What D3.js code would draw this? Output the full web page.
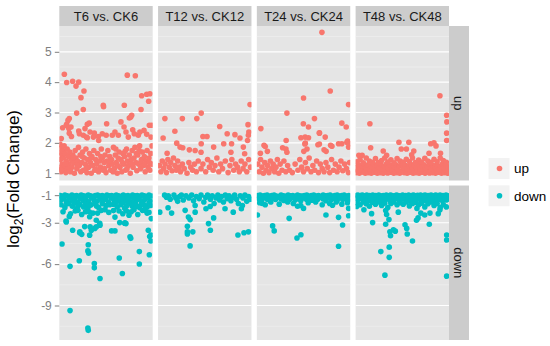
<!DOCTYPE html>
<html>
<head>
<meta charset="utf-8">
<script src="https://cdn.jsdelivr.net/npm/d3@7"></script>
<style>
  body { margin: 0; background: #fff; }
  text { font-family: "Liberation Sans", Arial, Helvetica, sans-serif; }
</style>
</head>
<body>
<svg id="chart" width="550" height="346"></svg>
<script>
// facets
var samples = ["T6 vs. CK6", "T12 vs. CK12", "T24 vs. CK24", "T48 vs. CK48"];
var types = ["up", "down"];

// y breaks (major / minor) per row
var upBreaks = [1, 2, 3, 4, 5];
var upMinor = [1.5, 2.5, 3.5, 4.5, 5.5];
var downBreaks = [-1, -3, -6, -9];
var downMinor = [-2, -4.5, -7.5, -10.5];
var upDomain = [0.76, 5.85];
var downDomain = [-11.5, -0.3];

// points: [gene position (0-100 within sample), log2 fold change]
var upT6 = [
  [5.4,4.26],[7.9,3.99],[14.3,4.03],[17.9,3.87],[20.8,4.0],[23.2,3.49],[26.4,3.71],[25.7,3.1],[18.6,2.98],
  [72.8,4.23],[81.4,4.21],[69.6,3.24],[47.1,3.24],[47.4,3.19],[88.2,3.55],[93.6,3.6],[97,3.62],[95.7,3.37],
  [87.5,3.1],[77.5,2.91],[75,2.82],[96.4,2.58],[98.9,2.58],[3.6,2.5],[7.9,2.61],[10.7,2.8],[10.2,2.47],
  [12.5,2.52],[10.7,2.32],[20.8,2.39],[27.5,2.47],[30,2.61],[32,2.65],[25.7,2.25],[29,2.19],[32.9,2.36],
  [37.5,2.32],[36.5,2.19],[41.8,2.21],[46,2.3],[50.7,2.63],[50.2,2.25],[56.7,2.25],[59.6,2.36],[63.2,2.25],
  [66,2.69],[69.3,2.52],[71.4,2.36],[73.9,2.19],[78.6,2.43],[80.3,2.3],[84.6,2.25],[90.7,2.41],[93.6,2.28],
  [98.2,2.19],[2.1,2.14],[7.5,2.58],[9.3,2.74],[13,2.21],[21.5,2.3],[30,2.17],[42.2,2.08],[76.5,2.85],[86.3,2.36],
  [0.8,1.95],[0.8,1.7],[1.2,1.45],[1.5,1.2],[1.8,1.05],[2.5,1.85],[2.8,1.6],[3.2,1.3],[3.6,1.75],[4.0,1.1],
  [4.5,1.5],[5.2,1.9],[5.8,1.25],[6.3,1.65],[7.0,1.02],[7.5,1.4],[8.4,1.8],[9.0,1.15],[9.8,1.55],[10.5,1.3],
  [11.3,1.7],[12.0,1.05],[12.8,1.45],[13.5,1.2],[14.5,1.6],[15.4,1.35],[16.2,1.0],[17.0,1.75],[17.8,1.5],
  [18.8,1.15],[19.5,1.4],[20.5,1.85],[21.4,1.25],[22.3,1.6],[23.0,1.05],[24.0,1.35],[25.0,1.7],[25.8,1.1],
  [26.8,1.5],[27.8,1.3],[28.5,1.8],[29.5,1.02],[30.5,1.45],[31.4,1.2],[32.3,1.65],[33.3,1.35],[34.2,1.0],
  [35.0,1.55],[36.0,1.25],[37.0,1.75],[38.0,1.1],[39.0,1.45],[40.0,1.3],[41.0,1.65],[42.0,1.05],[43.0,1.4],
  [44.0,1.2],[45.0,1.8],[46.0,1.5],[47.0,1.1],[48.0,1.35],[49.0,1.6],[50.0,1.02],[51.0,1.4],[52.0,1.75],
  [53.0,1.25],[54.0,1.55],[55.0,1.1],[56.0,1.45],[57.0,1.3],[58.0,1.85],[59.0,1.15],[60.0,1.6],[61.0,1.35],
  [62.0,1.0],[63.0,1.5],[64.0,1.7],[65.0,1.2],[66.0,1.45],[67.0,1.05],[68.0,1.65],[69.0,1.3],[70.0,1.55],
  [71.0,1.1],[72.0,1.8],[73.0,1.4],[74.0,1.25],[75.0,1.6],[76.0,1.0],[77.0,1.45],[78.0,1.75],[79.0,1.2],
  [80.0,1.5],[81.0,1.85],[82.0,1.35],[83.0,1.08],[84.0,1.6],[85.0,1.3],[86.0,1.9],[87.0,1.15],[88.0,1.45],
  [89.0,1.7],[90.0,1.25],[91.0,1.55],[92.0,1.05],[93.0,1.4],[94.0,1.75],[95.0,1.2],[96.0,1.5],[97.0,1.1],
  [98.0,1.65],[99.0,1.3],[99.3,1.9],
  [2,1.12],[6.5,1.32],[11,1.08],[15,1.52],[19,1.28],[24.5,1.55],[29,1.18],[33.8,1.5],[39.5,1.12],[44.5,1.55],
  [48.5,1.15],[53.5,1.4],[57.5,1.05],[62.5,1.25],[67.5,1.35],[72.5,1.15],[77.5,1.3],[82.5,1.65],[87.5,1.38],
  [91.5,1.3],[96.5,1.35],[60.5,1.8],[70.5,1.72],[85.5,1.75]
];
var upT12 = [
  [7.3,2.8],[26,2.8],[41.5,2.8],[46.2,2.98],[98.5,3.26],[66,2.54],[18,2.38],[5.4,2.16],[48,2.21],[52.4,2.21],
  [74,2.3],[82.3,2.27],[87.7,2.16],[96.3,2.6],[97.2,2.36],[96.7,2.25],[95.8,2.08],[20,1.99],[23.5,1.86],
  [26.4,1.84],[33.5,1.77],[39.7,1.75],[46.2,1.97],[46,1.69],[59.5,1.86],[70.3,1.97],[78.7,1.97],[78,1.69],
  [91.3,1.86],[92.7,1.64],[9.7,1.66],
  [1.5,1.25],[3,1.05],[4.5,1.4],[6,1.15],[7.5,1.3],[9,1.02],[10.5,1.45],[12,1.2],[13.5,1.35],[15,1.08],
  [16.5,1.5],[18,1.25],[19.5,1.1],[21,1.4],[22.5,1.2],[24,1.05],[26,1.3],[28,1.15],[31,1.0],[33,1.35],
  [35,1.2],[37,1.1],[39,1.3],[41,1.05],[43,1.4],[46,1.15],[48,1.3],[51,1.05],[53,1.45],[55,1.2],[57,1.35],
  [59,1.1],[61,1.25],[63,1.5],[65,1.05],[67,1.3],[69,1.15],[72,1.4],[75,1.02],[77,1.25],[79,1.45],[81,1.1],
  [83,1.3],[85,1.2],[87,1.05],[89,1.4],[91,1.15],[93,1.3],[95,1.05],[97,1.45],[99,1.2]
];
var upT24 = [
  [69.7,5.64],[78.6,3.71],[50,3.48],[32.2,2.98],[98.2,3.26],[61.7,2.8],[49.8,2.63],[4.3,2.47],[55.3,2.52],
  [67,2.32],[91,2.65],[95.7,2.52],[9,1.88],[31.4,2.08],[31.2,1.8],[47.2,2.17],[51.9,1.99],[53.7,1.8],
  [65.4,1.94],[73.2,2.19],[80.4,1.89],[87.5,1.97],[91,1.97],[96.4,2.02],[98.2,1.86],[3.8,1.66],[7.7,1.92],
  [11.3,1.72],[27.6,1.84],[32.2,1.69],[51.7,2.19],[55.3,2.17],[51.4,1.96],[67,2.33],[67,1.96],[50.3,1.72],
  [72,1.77],[79,1.92],[74.2,1.72],[97.2,2.06],[99.1,1.97],
  [1,1.3],[2.5,1.05],[4,1.45],[5.5,1.2],[7,1.0],[8.5,1.35],[10,1.1],[11.5,1.25],[13,1.02],[14.5,1.4],
  [16,1.15],[17.5,1.3],[19,1.05],[20.5,1.2],[22,1.45],[23.5,1.0],[25,1.3],[27,1.1],[29,1.4],[31,1.05],
  [33,1.25],[35,1.1],[38,1.02],[41,1.3],[44,1.1],[46,1.45],[48,1.2],[50,1.05],[52,1.35],[54,1.15],[56,1.5],
  [58,1.05],[60,1.25],[62,1.1],[64,1.4],[66,1.02],[68,1.3],[70,1.15],[72,1.05],[74,1.35],[76,1.2],[78,1.02],
  [80,1.45],[82,1.1],[84,1.3],[86,1.05],[88,1.2],[90,1.4],[92,1.08],[94,1.3],[96,1.15],[98,1.02],[99.3,1.35]
];
var upT48 = [
  [90.3,3.55],[15.3,2.63],[97.5,2.91],[97.7,2.69],[97.5,2.32],[97.5,2.08],[46.4,2.02],[57,2.02],[16.1,1.84],
  [29.6,1.73],[48.9,1.8],[54.4,1.8],[62.3,1.73],[33.2,1.59],[78.6,1.66],[80.4,1.97],[83.9,2.0],[86.1,1.9],
  [90.9,1.66],[60,1.61],[3.5,1.59],[7,1.59],
  [0.8,1.02],[2.4,1.08],[4,1.0],[5.6,1.05],[7.2,1.1],[8.8,1.03],[10.4,1.0],[12,1.07],[13.6,1.02],[15.2,1.09],
  [16.8,1.0],[18.4,1.05],[20,1.03],[21.6,1.1],[23.2,1.0],[24.8,1.06],[26.4,1.02],[28,1.08],[29.6,1.0],
  [31.2,1.04],[32.8,1.1],[34.4,1.01],[36,1.06],[37.6,1.03],[39.2,1.09],[40.8,1.0],[42.4,1.05],[44,1.02],
  [45.6,1.08],[47.2,1.0],[48.8,1.04],[50.4,1.1],[52,1.02],[53.6,1.06],[55.2,1.0],[56.8,1.08],[58.4,1.03],
  [60,1.1],[61.6,1.0],[63.2,1.05],[64.8,1.02],[66.4,1.09],[68,1.0],[69.6,1.06],[71.2,1.03],[72.8,1.1],
  [74.4,1.0],[76,1.04],[77.6,1.08],[79.2,1.01],[80.8,1.06],[82.4,1.02],[84,1.1],[85.6,1.0],[87.2,1.05],
  [88.8,1.03],[90.4,1.08],[92,1.0],[93.6,1.06],[95.2,1.02],[96.8,1.09],[98.4,1.0],[99.5,1.05],
  [1,1.2],[3,1.28],[5,1.15],[7,1.24],[9,1.3],[11,1.18],[13,1.26],[15,1.14],[17,1.22],[19,1.3],[21,1.17],
  [23,1.25],[25,1.2],[27,1.29],[29,1.15],[31,1.23],[33,1.3],[35,1.18],[37,1.26],[39,1.16],[41,1.22],[43,1.28],
  [45,1.15],[47,1.24],[49,1.3],[51,1.19],[53,1.26],[55,1.15],[57,1.23],[59,1.29],[61,1.17],[63,1.25],[65,1.2],
  [67,1.3],[69,1.15],[71,1.24],[73,1.28],[75,1.18],[77,1.22],[79,1.3],[81,1.16],[83,1.25],[85,1.2],[87,1.28],
  [89,1.15],[91,1.23],[93,1.3],[95,1.18],[97,1.26],[99,1.2],
  [1.5,1.38],[4.8,1.45],[8.1,1.34],[11.4,1.5],[14.7,1.4],[18,1.36],[21.3,1.48],[24.6,1.35],[27.9,1.42],
  [31.2,1.5],[34.5,1.37],[37.8,1.44],[41.1,1.34],[44.4,1.48],[47.7,1.4],[51,1.36],[54.3,1.46],[57.6,1.38],
  [60.9,1.5],[64.2,1.35],[67.5,1.43],[70.8,1.37],[74.1,1.49],[77.4,1.4],[80.7,1.35],[84,1.46],[87.3,1.38],
  [90.6,1.5],[93.9,1.42],[97.2,1.36]
];

var downT6 = [
  [2.9,-4.54],[11.5,-6.16],[21.4,-5.75],[31,-4.6],[30.6,-5.04],[31.4,-5.2],[37.5,-5.96],[37.5,-6.27],
  [43.6,-7.04],[64.2,-5.56],[67.5,-6.68],[85.7,-5.09],[85.7,-5.99],[96.4,-5.32],[98,-3.89],[98,-4.32],
  [95.3,-3.54],[11.5,-9.37],[31,-10.8],[30.6,-10.63],[75.7,-4.01],[76.5,-4.13],[70.3,-3.01],[71.4,-3.06],
  [14.3,-3.54],[7.2,-2.87],[10.7,-2.54],[22,-3.65],[24,-3.84],[33,-3.3],[38,-3.41],[43.6,-3.18],[56,-3.59],
  [59.6,-3.59],[59.6,-2.59],[74.6,-2.46],[94,-2.3],[98.5,-2.7],[21.8,-3.73],[32.5,-3.9],[34.3,-3.54],
  [39.6,-3.3],[64.7,-2.99],[70,-3.04],[96.8,-4.0],[7.5,-2.94],[39.6,-2.82],[43.3,-3.04],[27.2,-3.28],[32.5,-2.57],
  [1,-1.02],[3.5,-1.08],[6,-1.0],[8.5,-1.05],[11,-1.1],[13.5,-1.0],[16,-1.06],[18.5,-1.02],[21,-1.1],
  [23.5,-1.0],[26,-1.04],[28.5,-1.08],[31,-1.0],[33.5,-1.05],[36,-1.1],[38.5,-1.02],[41,-1.0],[43.5,-1.07],
  [46,-1.03],[48.5,-1.1],[51,-1.0],[53.5,-1.05],[56,-1.02],[58.5,-1.08],[61,-1.0],[63.5,-1.04],[66,-1.1],
  [68.5,-1.0],[71,-1.06],[73.5,-1.02],[76,-1.1],[78.5,-1.0],[81,-1.05],[83.5,-1.03],[86,-1.08],[88.5,-1.0],
  [91,-1.04],[93.5,-1.1],[96,-1.0],[98.5,-1.06],
  [1.5,-1.35],[4.5,-1.25],[7.5,-1.45],[10.5,-1.2],[13.5,-1.4],[16.5,-1.3],[19.5,-1.5],[22.5,-1.22],
  [25.5,-1.38],[28.5,-1.28],[31.5,-1.48],[34.5,-1.2],[37.5,-1.35],[40.5,-1.45],[43.5,-1.25],[46.5,-1.4],
  [49.5,-1.3],[52.5,-1.5],[55.5,-1.2],[58.5,-1.35],[61.5,-1.28],[64.5,-1.45],[67.5,-1.22],[70.5,-1.4],
  [73.5,-1.3],[76.5,-1.48],[79.5,-1.2],[82.5,-1.38],[85.5,-1.26],[88.5,-1.44],[91.5,-1.32],[94.5,-1.2],[97.5,-1.42],
  [2,-1.7],[6,-1.9],[10,-1.6],[14,-1.8],[18,-2.0],[22,-1.65],[26,-1.85],[30,-1.95],[34,-1.7],[38,-1.6],
  [42,-1.9],[50,-1.75],[58,-1.65],[62,-1.85],[66,-1.7],[70,-1.95],[74,-1.6],[78,-1.8],[82,-1.7],[86,-1.9],
  [90,-1.65],[94,-1.85],[98,-1.75],
  [4,-2.2],[12,-2.35],[17,-2.15],[24,-2.4],[28,-2.2],[36,-2.3],[45,-2.1],[53,-2.25],[64,-2.15],[68,-2.35],
  [77,-2.2],[84,-2.4],[89,-2.1],[96,-2.25],
  [8,-1.62],[16,-1.58],[20,-1.8],[28,-1.62],[32,-1.78],[40,-1.8],[46,-1.62],[54,-1.7],[60,-1.55],[68,-1.55],
  [72,-1.78],[80,-1.55],[84,-1.82],[88,-1.6],[92,-1.78],[96,-1.58],[20,-2.1],[32,-2.2],[41,-2.3],[49,-2.05],
  [58,-2.12],[72,-2.15],[80,-2.05],[92,-2.12]
];
var downT12 = [
  [1.8,-2.23],[14.5,-2.3],[10.7,-1.91],[29,-2.1],[32.5,-2.59],[34.3,-2.77],[31.4,-3.25],[31.4,-3.66],
  [31.4,-3.82],[37.2,-3.66],[34.3,-4.68],[39.7,-2.23],[39.7,-1.75],[54,-3.06],[56,-3.54],[59.5,-2.65],
  [80.5,-2.23],[85.5,-3.89],[92,-3.73],[96.8,-3.66],[71.7,-1.99],[89.2,-1.99],[90.3,-1.75],[51.3,-1.99],[55.8,-1.82],
  [7,-1.0],[9,-1.15],[11,-1.05],[13,-1.3],[17,-1.0],[19,-1.2],[21,-1.45],[23,-1.1],[25,-1.0],[27,-1.35],
  [30,-1.05],[33,-1.2],[36,-1.0],[38,-1.4],[41,-1.1],[44,-1.25],[46,-1.0],[49,-1.5],[51,-1.15],[53,-1.0],
  [56,-1.3],[58,-1.05],[60,-1.6],[62,-1.2],[64,-1.0],[66,-1.35],[68,-1.1],[70,-1.5],[72,-1.0],[74,-1.25],
  [76,-1.05],[78,-1.4],[80,-1.15],[82,-1.0],[84,-1.3],[86,-1.6],[88,-1.05],[91,-1.2],[93,-1.0],[95,-1.45],
  [97,-1.1],[99,-1.3]
];
var downT24 = [
  [0.6,-2.44],[16.9,-3.23],[18.6,-3.59],[34.6,-2.68],[43,-4.11],[47.2,-3.87],[74,-2.44],[87.5,-2.61],
  [91.8,-3.16],[87.5,-4.7],[98.3,-2.49],[98.3,-1.96],[81,-1.73],[50,-1.96],[43.6,-1.8],[5.9,-1.61],
  [1,-1.03],[3.5,-1.0],[6,-1.07],[8.5,-1.02],[11,-1.0],[13.5,-1.09],[16,-1.03],[18.5,-1.0],[21,-1.06],
  [23.5,-1.1],[26,-1.0],[28.5,-1.04],[31,-1.08],[33.5,-1.0],[36,-1.05],[38.5,-1.02],[41,-1.1],[43.5,-1.0],
  [46,-1.04],[48.5,-1.07],[51,-1.02],[53.5,-1.0],[56,-1.09],[58.5,-1.03],[61,-1.0],[63.5,-1.06],[66,-1.02],
  [68.5,-1.1],[71,-1.0],[73.5,-1.05],[76,-1.03],[78.5,-1.0],[81,-1.08],[83.5,-1.02],[86,-1.0],[88.5,-1.06],
  [91,-1.03],[93.5,-1.0],[96,-1.07],[98.5,-1.02],
  [2,-1.25],[5,-1.35],[8,-1.18],[11,-1.3],[14,-1.4],[17,-1.2],[20,-1.32],[23,-1.15],[26,-1.28],[29,-1.38],
  [32,-1.22],[35,-1.3],[38,-1.16],[41,-1.35],[44,-1.25],[47,-1.4],[50,-1.2],[53,-1.3],[56,-1.18],[59,-1.36],
  [62,-1.24],[65,-1.32],[68,-1.15],[71,-1.28],[74,-1.4],[77,-1.2],[80,-1.3],[83,-1.22],[86,-1.38],[89,-1.18],
  [92,-1.3],[95,-1.25],[98,-1.35],
  [3,-1.55],[9,-1.7],[15,-1.5],[24,-1.65],[33,-1.5],[39,-1.6],[47,-1.75],[55,-1.55],[63,-1.5],[70,-1.7],
  [78,-1.6],[85,-1.5],[91,-1.65],[97,-1.55]
];
var downT48 = [
  [1.1,-1.82],[8.9,-2.06],[17.1,-2.34],[18.2,-2.99],[32.2,-3.11],[35.7,-2.77],[36.7,-3.66],[37.4,-3.94],
  [42.5,-3.61],[32.2,-2.11],[33.2,-2.41],[27,-5.09],[36,-4.77],[36,-5.51],[31.4,-6.8],[45.7,-2.23],
  [52.9,-3.14],[54.7,-3.41],[55.3,-3.82],[60.9,-4.32],[65.2,-2.82],[66.9,-2.65],[69.8,-2.3],[78.9,-3.11],
  [79.6,-2.3],[88.5,-2.34],[90.3,-2.06],[97.5,-3.89],[97.5,-4.25],[97.5,-6.87],[40.5,-3.51],[65.7,-1.96],[74,-2.44],
  [0.8,-1.03],[2.4,-1.0],[4,-1.07],[5.6,-1.02],[7.2,-1.0],[8.8,-1.09],[10.4,-1.04],[12,-1.0],[13.6,-1.06],
  [15.2,-1.02],[16.8,-1.1],[18.4,-1.0],[20,-1.05],[21.6,-1.03],[23.2,-1.08],[24.8,-1.0],[26.4,-1.04],[28,-1.1],
  [29.6,-1.02],[31.2,-1.06],[32.8,-1.0],[34.4,-1.08],[36,-1.03],[37.6,-1.0],[39.2,-1.05],[40.8,-1.09],
  [42.4,-1.02],[44,-1.0],[45.6,-1.06],[47.2,-1.04],[48.8,-1.1],[50.4,-1.0],[52,-1.05],[53.6,-1.02],
  [55.2,-1.08],[56.8,-1.0],[58.4,-1.04],[60,-1.07],[61.6,-1.0],[63.2,-1.03],[64.8,-1.09],[66.4,-1.01],
  [68,-1.05],[69.6,-1.0],[71.2,-1.08],[72.8,-1.03],[74.4,-1.0],[76,-1.06],[77.6,-1.02],[79.2,-1.1],[80.8,-1.0],
  [82.4,-1.04],[84,-1.07],[85.6,-1.0],[87.2,-1.03],[88.8,-1.09],[90.4,-1.0],[92,-1.05],[93.6,-1.02],
  [95.2,-1.07],[96.8,-1.0],[98.4,-1.04],[99.5,-1.1],
  [1,-1.22],[3,-1.3],[5,-1.16],[7,-1.26],[9,-1.35],[11,-1.2],[13,-1.28],[15,-1.4],[17,-1.18],[19,-1.25],
  [21,-1.33],[23,-1.15],[25,-1.24],[27,-1.38],[29,-1.2],[31,-1.3],[33,-1.17],[35,-1.27],[37,-1.4],[39,-1.22],
  [41,-1.3],[43,-1.16],[45,-1.25],[47,-1.36],[49,-1.2],[51,-1.28],[53,-1.15],[55,-1.33],[57,-1.24],[59,-1.4],
  [61,-1.18],[63,-1.27],[65,-1.35],[67,-1.2],[69,-1.3],[71,-1.16],[73,-1.25],[75,-1.38],[77,-1.22],[79,-1.3],
  [81,-1.18],[83,-1.28],[85,-1.4],[87,-1.2],[89,-1.32],[91,-1.25],[93,-1.4],[95,-1.22],[97,-1.35],[99,-1.28],
  [1.5,-1.55],[4.8,-1.7],[8.1,-1.5],[11.4,-1.62],[14.7,-1.8],[18,-1.52],[21.3,-1.66],[24.6,-1.5],[27.9,-1.75],
  [31.2,-1.58],[34.5,-1.9],[37.8,-1.6],[41.1,-1.5],[44.4,-1.7],[47.7,-1.55],[51,-1.65],[54.3,-1.5],
  [57.6,-1.78],[60.9,-1.6],[64.2,-1.52],[67.5,-1.7],[70.8,-1.58],[74.1,-1.85],[77.4,-1.62],[80.7,-1.5],
  [84,-1.75],[87.3,-1.6],[90.6,-1.9],[93.9,-1.7],[97.2,-1.85]
];

// lookup built from the arrays above
var panels = {
  up:   {"T6 vs. CK6": upT6, "T12 vs. CK12": upT12, "T24 vs. CK24": upT24, "T48 vs. CK48": upT48},
  down: {"T6 vs. CK6": downT6, "T12 vs. CK12": downT12, "T24 vs. CK24": downT24, "T48 vs. CK48": downT48}
};
var colors = {up: "#F8766D", down: "#00BFC4"};
var breaks = {up: upBreaks, down: downBreaks};
var minor = {up: upMinor, down: downMinor};
var domains = {up: upDomain, down: downDomain};
var pointR = 2.8;

var svg = d3.select("#chart");

// facet layout
var fx = d3.scaleBand().domain(samples).range([59.3, 449]).paddingInner(0.0544);
var fy = d3.scaleBand().domain(types).range([26, 340]).paddingInner(0.0314);
var x = d3.scaleLinear().domain([0, 100]).range([0, fx.bandwidth()]);

var y = {};
types.forEach(function(t) {
    y[t] = d3.scaleLinear().domain(domains[t]).range([fy(t) + fy.bandwidth(), fy(t)]);
});

// panels
types.forEach(function(t) {
    samples.forEach(function(s, i) {
        var g = svg.append("g").attr("transform", "translate(" + fx(s) + ",0)");
        var clipId = "clip-" + t + "-" + i;

        g.append("clipPath").attr("id", clipId)
         .append("rect")
         .attr("x", 0).attr("y", fy(t))
         .attr("width", fx.bandwidth()).attr("height", fy.bandwidth());

        g.append("rect")
         .attr("x", 0).attr("y", fy(t))
         .attr("width", fx.bandwidth()).attr("height", fy.bandwidth())
         .attr("fill", "#E5E5E5");

        g.selectAll(".minor")
         .data(minor[t])
         .enter()
         .append("line")
         .attr("x1", 0).attr("x2", fx.bandwidth())
         .attr("y1", d => y[t](d)).attr("y2", d => y[t](d))
         .attr("stroke", "#F2F2F2")
         .attr("stroke-width", 0.6);

        g.selectAll(".major")
         .data(breaks[t])
         .enter()
         .append("line")
         .attr("x1", 0).attr("x2", fx.bandwidth())
         .attr("y1", d => y[t](d)).attr("y2", d => y[t](d))
         .attr("stroke", "#FFFFFF")
         .attr("stroke-width", 1.2);

        g.append("g")
         .attr("clip-path", "url(#" + clipId + ")")
         .selectAll("circle")
         .data(panels[t][s])
         .enter()
         .append("circle")
         .attr("cx", d => x(d[0]))
         .attr("cy", d => y[t](d[1]))
         .attr("r", pointR)
         .attr("fill", colors[t]);
    });

    // y axis
    var axis = svg.append("g")
        .attr("transform", "translate(" + fx(samples[0]) + ",0)")
        .call(d3.axisLeft(y[t]).tickValues(breaks[t]).tickSize(4.5).tickPadding(3)
                .tickFormat(d => String(d)));
    axis.select(".domain").remove();
    axis.selectAll(".tick line").attr("stroke", "#7F7F7F");
    axis.selectAll(".tick text")
        .attr("fill", "#7F7F7F")
        .style("font-size", "12px")
        .style("font-family", "'Liberation Sans', Arial, sans-serif");

    // right strip
    var stripX = fx(samples[samples.length - 1]) + fx.bandwidth();
    svg.append("rect")
       .attr("x", stripX).attr("y", fy(t))
       .attr("width", 20).attr("height", fy.bandwidth())
       .attr("fill", "#CCCCCC");
    svg.append("text")
       .attr("transform", "translate(" + (stripX + 10) + "," + (fy(t) + fy.bandwidth() / 2) + ") rotate(90)")
       .attr("text-anchor", "middle")
       .attr("dy", "0.35em")
       .attr("fill", "#1A1A1A")
       .style("font-size", "13px")
       .text(t);
});

// top strips
samples.forEach(function(s) {
    svg.append("rect")
       .attr("x", fx(s)).attr("y", 6)
       .attr("width", fx.bandwidth()).attr("height", 20)
       .attr("fill", "#CCCCCC");
    svg.append("text")
       .attr("x", fx(s) + fx.bandwidth() / 2)
       .attr("y", 16)
       .attr("dy", "0.35em")
       .attr("text-anchor", "middle")
       .attr("fill", "#1A1A1A")
       .style("font-size", "13px")
       .text(s);
});

// y axis title
var title = svg.append("text")
    .attr("transform", "translate(19,179) rotate(-90)")
    .attr("text-anchor", "middle")
    .attr("fill", "#000")
    .style("font-size", "17px");
title.append("tspan").text("log");
title.append("tspan").attr("dy", 4).style("font-size", "12px").text("2");
title.append("tspan").attr("dy", -4).text("(Fold Change)");

// legend
var legend = svg.append("g").attr("transform", "translate(488,157.5)");
types.forEach(function(t, i) {
    var row = legend.append("g").attr("transform", "translate(0," + (i * 27.3) + ")");
    row.append("rect")
       .attr("width", 22).attr("height", 22)
       .attr("fill", "#F2F2F2")
       .attr("stroke", "#FFFFFF");
    row.append("circle")
       .attr("cx", 11.5).attr("cy", 11)
       .attr("r", pointR)
       .attr("fill", colors[t]);
    row.append("text")
       .attr("x", 26).attr("y", 11)
       .attr("dy", "0.35em")
       .attr("fill", "#000")
       .style("font-size", "13.5px")
       .text(t);
});
</script>
</body>
</html>
